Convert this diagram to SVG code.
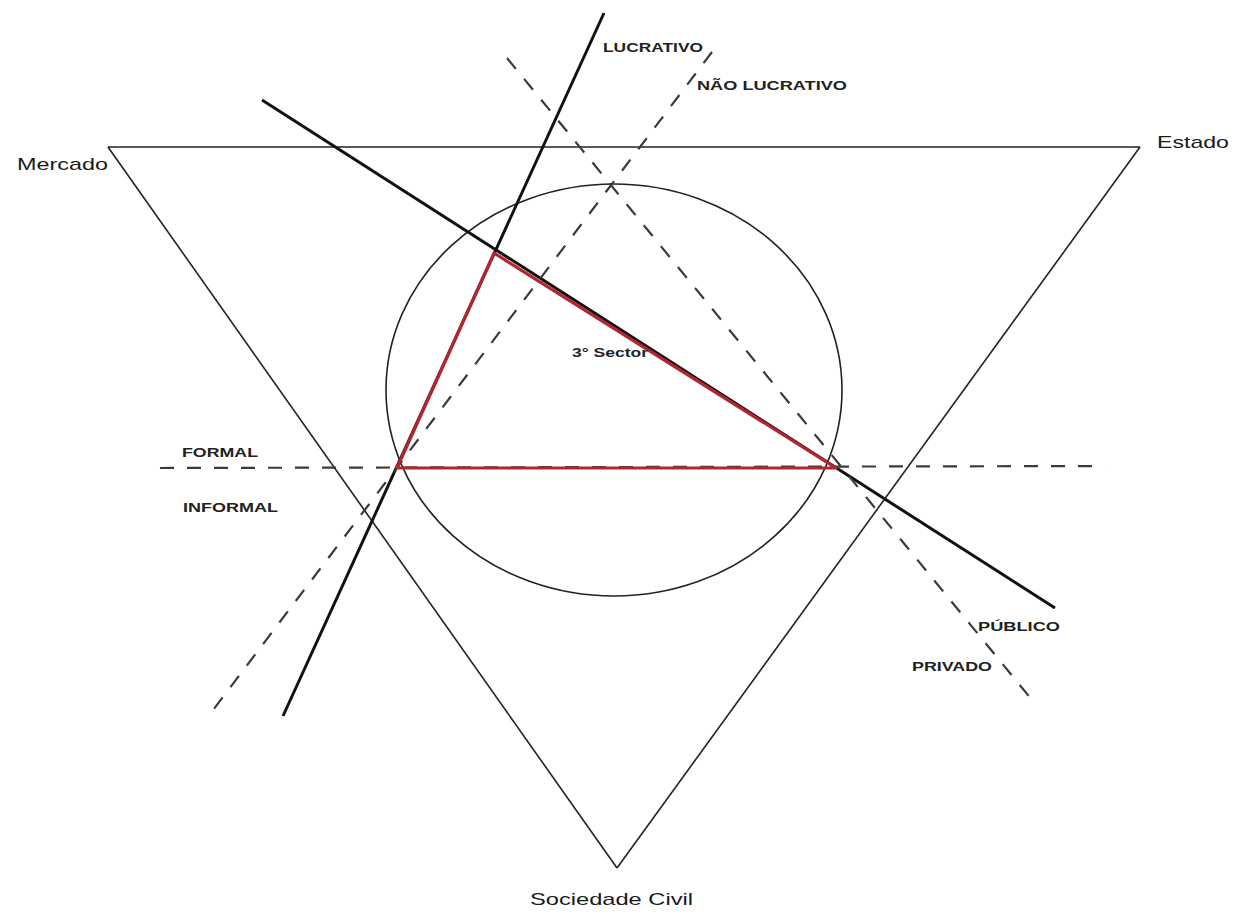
<svg xmlns="http://www.w3.org/2000/svg" width="1235" height="914" viewBox="0 0 1235 914">
<style>
.thin{fill:none;stroke:#222;stroke-width:1.6}
.solid{fill:none;stroke:#111;stroke-width:3}
.dash{fill:none;stroke:#3a3a3a;stroke-width:2.2;stroke-dasharray:14 13}
.red{fill:none;stroke:#b3262f;stroke-width:3.2;stroke-linejoin:round}
text{font-family:"Liberation Sans",Arial,sans-serif;fill:#222;font-weight:bold}
.big{font-size:17px;font-weight:normal;fill:#1a1a1a}
.small{font-size:12px}
</style>
<rect width="1235" height="914" fill="#fff"/>
<g id="triangle">
<line x1="108" y1="147" x2="1140" y2="147" class="thin" stroke="#555" stroke-width="2.6"/>
<line x1="108" y1="147" x2="617" y2="868" class="thin"/>
<line x1="1140" y1="147" x2="617" y2="868" class="thin"/>
</g>
<g id="circle"><ellipse cx="614" cy="390" rx="228" ry="206" class="thin"/></g>
<g id="connectors">
<line x1="604" y1="13" x2="283" y2="716" class="solid"/>
<line x1="262" y1="100" x2="1055" y2="608" class="solid"/>
<line x1="712" y1="52" x2="207" y2="718" class="dash"/>
<line x1="507" y1="58" x2="1032" y2="700" class="dash"/>
<line x1="160" y1="468" x2="1105" y2="466" class="dash"/>
</g>
<g id="third-sector"><polygon points="494,253 397,468 836,468" class="red"/></g>
<g id="labels">
<text x="17" y="170" class="big" textLength="91" lengthAdjust="spacingAndGlyphs">Mercado</text>
<text x="1157" y="148" class="big" textLength="72" lengthAdjust="spacingAndGlyphs">Estado</text>
<text x="530" y="905" class="big" textLength="163" lengthAdjust="spacingAndGlyphs">Sociedade Civil</text>
<text x="603" y="52" class="small" textLength="100" lengthAdjust="spacingAndGlyphs">LUCRATIVO</text>
<text x="697" y="90" class="small" textLength="150" lengthAdjust="spacingAndGlyphs">NÃO LUCRATIVO</text>
<text x="182" y="457" class="small" textLength="76" lengthAdjust="spacingAndGlyphs">FORMAL</text>
<text x="183" y="512" class="small" textLength="95" lengthAdjust="spacingAndGlyphs">INFORMAL</text>
<text x="572" y="357" class="small" textLength="76" lengthAdjust="spacingAndGlyphs">3° Sector</text>
<text x="978" y="631" class="small" textLength="82" lengthAdjust="spacingAndGlyphs">PÚBLICO</text>
<text x="912" y="671" class="small" textLength="80" lengthAdjust="spacingAndGlyphs">PRIVADO</text>
</g>
</svg>
